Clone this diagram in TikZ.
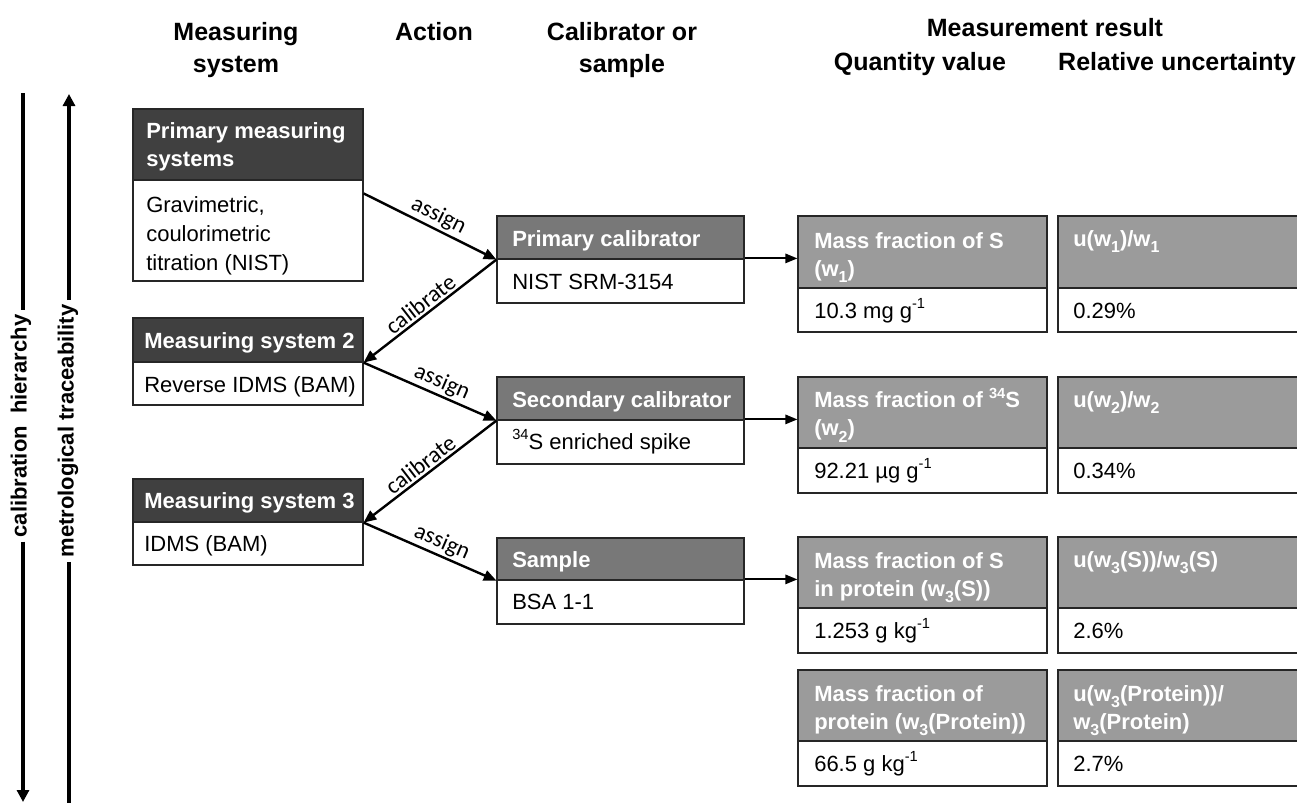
\documentclass[tikz,border=0pt]{standalone}
\usepackage{fontspec}
\setmainfont{Liberation Sans}
\newfontfamily\lblfont{Carlito}
\usetikzlibrary{fit,calc,arrows.meta}
\definecolor{hdark}{HTML}{404040}
\definecolor{hmid}{HTML}{787878}
\definecolor{hlight}{HTML}{9B9B9B}
\definecolor{bordc}{HTML}{262626}
\newcommand{\subx}[1]{\raisebox{-0.3em}{\fontsize{12}{12}\selectfont #1}}
\newcommand{\supx}[1]{\raisebox{0.42em}{\fontsize{11}{11}\selectfont #1}}
\tikzset{
  part/.style={draw=bordc, line width=0.9pt, inner sep=0pt},
  darkhd/.style={part, fill=hdark},
  midhd/.style={part, fill=hmid},
  lighthd/.style={part, fill=hlight},
  bodyp/.style={part, fill=white},
  htxt/.style={text=white, font=\bfseries\fontsize{16.5}{21}\selectfont, align=left, inner sep=0pt},
  btxt/.style={text=black, font=\fontsize{16.5}{22}\selectfont, align=left, inner sep=0pt},
  coltitle/.style={font=\bfseries\fontsize{18.75}{24}\selectfont, align=center, inner sep=0pt, anchor=north},
  conn/.style={line width=1.8pt, -{Triangle[length=9.5pt,width=8pt]}},
  connrev/.style={line width=1.8pt, {Triangle[length=9.5pt,width=8pt]}-},
  harr/.style={line width=1.4pt, -{Triangle[length=9pt,width=7pt]}},
  lbl/.style={font=\lblfont\fontsize{17.5}{20}\selectfont, inner sep=1.5pt, sloped, above},
  sidelbl/.style={font=\bfseries\fontsize{16.5}{20}\selectfont, rotate=90, inner xsep=3pt, inner ysep=0pt},
}
\begin{document}
\begin{tikzpicture}[x=0.75pt,y=-0.75pt]
\useasboundingbox (0,0) rectangle (1297,803);
\clip (0,0) rectangle (1297,803);

% column titles
\node[coltitle] (t1) at (236,22) {Measuring\\system};
\node[coltitle] (t2) at (434,22) {Action};
\node[coltitle] (t3) at (622,22) {Calibrator or\\sample};
\node[coltitle] (t4) at (1045,18) {Measurement result};
\node[coltitle] (t5) at (920,52) {Quantity value};
\node[coltitle] (t6) at (1177,52) {Relative uncertainty};

% measuring systems
\node[darkhd, fit={(133,109)(363,180)}] (pmh) {};
\node[bodyp, fit={(133,180)(363,281)}] (pmb) {};
\node[htxt, anchor=north west] (pmht) at (146,122) {Primary measuring\\systems};
\node[btxt, anchor=north west] (pmbt) at (146,196) {Gravimetric,\\coulorimetric\\titration (NIST)};

\node[darkhd, fit={(133,318)(363,362)}] (m2h) {};
\node[bodyp, fit={(133,362)(363,405)}] (m2b) {};
\node[htxt, anchor=base west] (m2ht) at (144,348) {Measuring system 2};
\node[btxt, anchor=base west] (m2bt) at (144,392) {Reverse IDMS (BAM)};

\node[darkhd, fit={(133,479)(363,522)}] (m3h) {};
\node[bodyp, fit={(133,522)(363,565)}] (m3b) {};
\node[htxt, anchor=base west] (m3ht) at (144,508) {Measuring system 3};
\node[btxt, anchor=base west] (m3bt) at (144,551) {IDMS (BAM)};

% calibrators
\node[midhd, fit={(497,216)(744,259)}] (c1h) {};
\node[bodyp, fit={(497,259)(744,303)}] (c1b) {};
\node[htxt, anchor=base west] (c1ht) at (512,246) {Primary calibrator};
\node[btxt, anchor=base west] (c1bt) at (512,289) {NIST SRM-3154};

\node[midhd, fit={(497,377)(744,420)}] (c2h) {};
\node[bodyp, fit={(497,420)(744,464)}] (c2b) {};
\node[htxt, anchor=base west] (c2ht) at (512,407) {Secondary calibrator};
\node[btxt, anchor=base west] (c2bt) at (512,449) {\supx{34}S enriched spike};

\node[midhd, fit={(497,538)(744,580)}] (c3h) {};
\node[bodyp, fit={(497,580)(744,624)}] (c3b) {};
\node[htxt, anchor=base west] (c3ht) at (512,567) {Sample};
\node[btxt, anchor=base west] (c3bt) at (512,609) {BSA 1-1};

% results
\node[lighthd, fit={(798,216)(1047,288)}] (r1q) {};
\node[bodyp, fit={(798,288)(1047,332)}] (r1qb) {};
\node[lighthd, fit={(1058,216)(1310,288)}] (r1u) {};
\node[bodyp, fit={(1058,288)(1310,332)}] (r1ub) {};
\node[htxt, anchor=north west] (r1qt) at (814,232) {Mass fraction of S\\(w\subx{1})};
\node[htxt, anchor=base west] (r1ut) at (1073,246) {u(w\subx{1})/w\subx{1}};
\node[btxt, anchor=base west] (r1qv) at (814,318) {10.3 mg g\supx{-1}};
\node[btxt, anchor=base west] (r1uv) at (1073,318) {0.29\%};

\node[lighthd, fit={(798,377)(1047,448)}] (r2q) {};
\node[bodyp, fit={(798,448)(1047,493)}] (r2qb) {};
\node[lighthd, fit={(1058,377)(1310,448)}] (r2u) {};
\node[bodyp, fit={(1058,448)(1310,493)}] (r2ub) {};
\node[htxt, anchor=north west] (r2qt) at (814,388) {Mass fraction of \supx{34}S\\(w\subx{2})};
\node[htxt, anchor=base west] (r2ut) at (1073,407) {u(w\subx{2})/w\subx{2}};
\node[btxt, anchor=base west] (r2qv) at (814,478) {92.21 µg g\supx{-1}};
\node[btxt, anchor=base west] (r2uv) at (1073,478) {0.34\%};

\node[lighthd, fit={(798,537)(1047,608)}] (r3q) {};
\node[bodyp, fit={(798,608)(1047,653)}] (r3qb) {};
\node[lighthd, fit={(1058,537)(1310,608)}] (r3u) {};
\node[bodyp, fit={(1058,608)(1310,653)}] (r3ub) {};
\node[htxt, anchor=north west] (r3qt) at (814,552) {Mass fraction of S\\in protein (w\subx{3}(S))};
\node[htxt, anchor=base west] (r3ut) at (1073,567) {u(w\subx{3}(S))/w\subx{3}(S)};
\node[btxt, anchor=base west] (r3qv) at (814,638) {1.253 g kg\supx{-1}};
\node[btxt, anchor=base west] (r3uv) at (1073,638) {2.6\%};

\node[lighthd, fit={(798,670)(1047,741)}] (r4q) {};
\node[bodyp, fit={(798,741)(1047,786)}] (r4qb) {};
\node[lighthd, fit={(1058,670)(1310,741)}] (r4u) {};
\node[bodyp, fit={(1058,741)(1310,786)}] (r4ub) {};
\node[htxt, anchor=north west] (r4qt) at (814,685) {Mass fraction of\\protein (w\subx{3}(Protein))};
\node[htxt, anchor=north west] (r4ut) at (1073,685) {u(w\subx{3}(Protein))/\\w\subx{3}(Protein)};
\node[btxt, anchor=base west] (r4qv) at (814,771) {66.5 g kg\supx{-1}};
\node[btxt, anchor=base west] (r4uv) at (1073,771) {2.7\%};

% action connectors
\draw[conn] ($(pmb.north east)+(0,14)$) -- node[lbl, pos=0.52] {assign} (c1h.south west);
\draw[connrev] (m2h.south east) -- node[lbl, pos=0.48] {calibrate} (c1h.south west);
\draw[conn] (m2h.south east) -- node[lbl, pos=0.55] {assign} (c2h.south west);
\draw[connrev] (m3h.south east) -- node[lbl, pos=0.48] {calibrate} (c2h.south west);
\draw[conn] (m3h.south east) -- node[lbl, pos=0.55] {assign} (c3h.south west);

% to results
\draw[harr] (c1b.north east) -- (c1b.north east -| r1q.west);
\draw[harr] (c2b.north east) -- (c2b.north east -| r2q.west);
\draw[harr] (c3b.north east) -- (c3b.north east -| r3q.west);

% side arrows
\node[sidelbl] (ch) at (21,426) {calibration\ \ hierarchy};
\coordinate (chtop) at (23,93);
\coordinate (chbot) at (23,802);
\draw[line width=2.4pt] (chtop) -- (chtop |- ch.east);
\draw[line width=2.4pt, -{Triangle[length=9pt,width=9pt]}] (chtop |- ch.west) -- (chbot);

\node[sidelbl] (mt) at (68,431) {metrological traceability};
\coordinate (mttop) at (69,94);
\coordinate (mtbot) at (69,803);
\draw[line width=2.6pt, -{Triangle[length=9pt,width=9pt]}] (mttop |- mt.east) -- (mttop);
\draw[line width=2.6pt] (mttop |- mt.west) -- (mtbot);
\end{tikzpicture}
\end{document}
